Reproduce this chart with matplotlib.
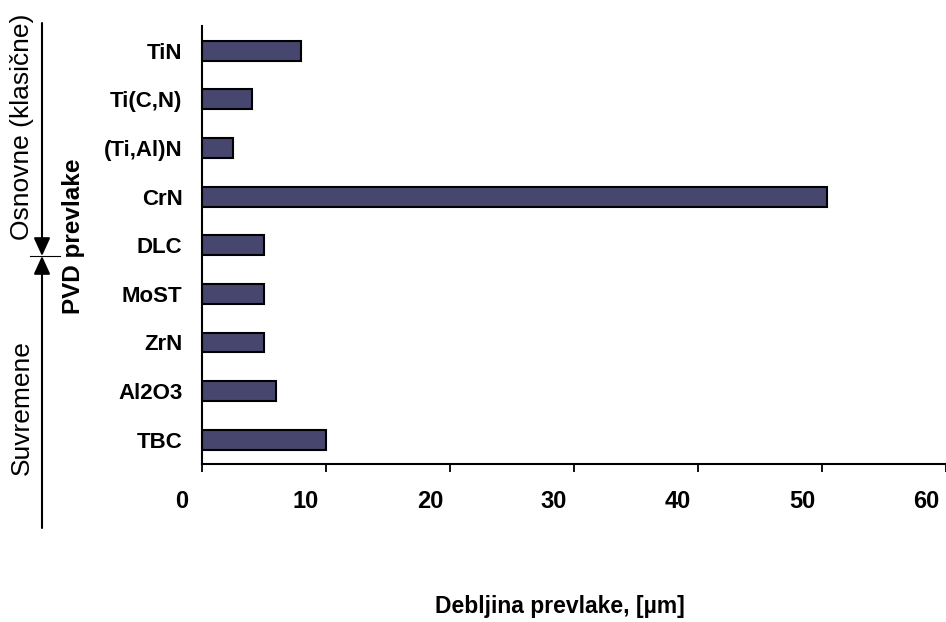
import matplotlib
matplotlib.use('Agg')
import matplotlib.pyplot as plt
import matplotlib.transforms as mtransforms
import numpy as np

plt.rcParams['font.family'] = ['Liberation Sans', 'DejaVu Sans']

# coating types (top to bottom) and thickness in µm
coatings = ['TiN', 'Ti(C,N)', '(Ti,Al)N', 'CrN', 'DLC', 'MoST', 'ZrN', 'Al2O3', 'TBC']
thickness = [8.0, 4.0, 2.5, 50.4, 5.0, 5.0, 5.0, 6.0, 10.0]
x_ticks = [0, 10, 20, 30, 40, 50, 60]

W, H = 946, 622
fig = plt.figure(figsize=(W / 100, H / 100), dpi=100)
ax = fig.add_axes([202 / W, 1 - 464 / H, 744 / W, (464 - 26.5) / H])

y_pos = np.arange(len(coatings))
ax.barh(y_pos, thickness, height=0.41, color='#46466F', edgecolor='black', linewidth=1.5)
ax.set_ylim(len(coatings) - 0.5, -0.5)
ax.set_xlim(0, 60)

ax.set_yticks(y_pos)
ax.set_yticklabels(coatings, fontsize=16, fontweight='bold')
ax.tick_params(axis='y', length=0, pad=14)
ax.set_xticks(x_ticks)
ax.set_xticklabels([str(t) for t in x_ticks], fontsize=17, fontweight='bold')
ax.tick_params(axis='x', length=6, width=1.3, direction='out', pad=13)

# shift x tick labels a bit to the left like in the original
offset = mtransforms.ScaledTranslation(-0.2, 0, fig.dpi_scale_trans)
for lbl in ax.get_xticklabels():
    lbl.set_transform(lbl.get_transform() + offset)

for s in ['top', 'right']:
    ax.spines[s].set_visible(False)
ax.spines['left'].set_linewidth(1.5)
ax.spines['bottom'].set_linewidth(1.5)

fig.text(560 / W, 1 - 606 / H, 'Debljina prevlake, [µm]', fontsize=16.5, fontweight='bold',
         ha='center', va='center')


def fp(x, y):
    return (x, H - y)


# left bracket with arrows
arrow = dict(arrowstyle='-|>,head_length=1.1,head_width=0.5', color='black', lw=1.5,
             shrinkA=0, shrinkB=0)
ax.annotate('', xy=fp(42, 256), xycoords='figure pixels',
            xytext=fp(42, 23), textcoords='figure pixels', arrowprops=arrow,
            annotation_clip=False)
ax.annotate('', xy=fp(42, 256), xycoords='figure pixels',
            xytext=fp(42, 528), textcoords='figure pixels', arrowprops=arrow,
            annotation_clip=False)
fig.add_artist(plt.Line2D([30 / W, 60 / W], [1 - 256 / H, 1 - 256 / H],
                          transform=fig.transFigure, color='black', lw=0.8))

fig.text(22 / W, 1 - 127 / H, 'Osnovne (klasične)', rotation=90, fontsize=19,
         ha='center', va='center')
fig.text(22 / W, 1 - 408 / H, 'Suvremene', rotation=90, fontsize=19,
         ha='center', va='center')
fig.text(73 / W, 1 - 236 / H, 'PVD prevlake', rotation=90, fontsize=17.5, fontweight='bold',
         ha='center', va='center')

fig.savefig('out.png', dpi=100)
